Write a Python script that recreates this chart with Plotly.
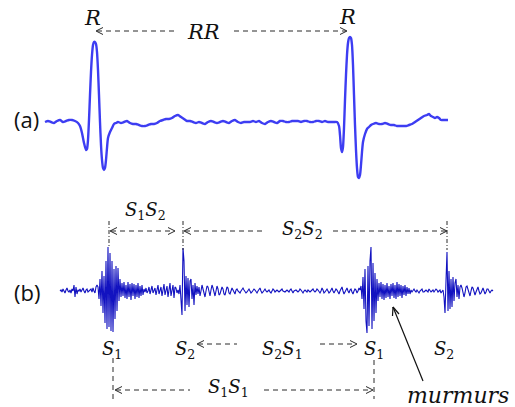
import plotly.graph_objects as go

W, H = 515, 407

# ---------------- data ----------------
# (a) ECG trace: time (px-scaled units) and amplitude (arbitrary units)
ecg_t = [45, 48, 51, 54, 57, 60, 63, 66, 69, 72, 75, 78, 80, 82, 84, 86, 87, 88, 89, 90,
         91, 92, 93, 94, 95, 96, 97, 98, 99, 100, 101, 102, 103, 104, 105, 106, 107, 108, 110, 112,
         114, 116, 118, 121, 124, 127, 130, 133, 136, 139, 142, 145, 148, 151, 154, 157, 160, 163, 166, 169,
         172, 175, 178, 181, 184, 187, 190, 193, 196, 199, 202, 205, 208, 211, 214, 217, 220, 223, 226, 229,
         232, 235, 238, 241, 244, 247, 250, 253, 256, 259, 262, 265, 268, 271, 274, 277, 280, 283, 286, 289,
         292, 295, 298, 301, 304, 307, 310, 313, 316, 319, 322, 325, 328, 331, 334, 337, 339, 340, 341, 342,
         343, 344, 345, 346, 347, 348, 349, 350, 351, 352, 353, 354, 355, 356, 357, 358, 359, 360, 361, 362,
         363, 365, 367, 369, 371, 373, 376, 379, 382, 385, 388, 391, 394, 397, 400, 403, 406, 409, 412, 415,
         418, 421, 424, 427, 429, 431, 433, 435, 437, 439, 441, 443, 445, 448]
ecg_amp = [0, 1, 0, -1, 1, 2, 0, 1, 2, 2, 1, -1, -4, -11, -21, -28, -27, -18, 2, 27,
           50, 67, 77, 80, 80, 78, 70, 52, 27, 0, -23, -38, -46, -48, -46, -38, -26, -16, -10, -6,
           -2, -1, 0, -1, 0, 1, -1, -2, -2, -3, -4, -4, -3, -2, -2, -1, 1, 2, 3, 3,
           4, 6, 7, 5, 3, 1, 1, 0, -1, 0, -1, -2, 0, 1, 0, -1, 0, 1, 0, -1,
           1, 2, 0, -1, 0, 0, 0, 1, 0, 1, -1, -2, 0, 1, 0, -1, 1, 1, 0, 0,
           1, 1, 1, 0, 1, 1, 0, 0, 1, 1, 0, 1, 0, 0, 0, 0, -4, -13, -26, -30,
           -25, -6, 22, 47, 67, 79, 84, 85, 84, 77, 57, 27, -3, -28, -46, -55, -56, -53, -43, -30,
           -20, -12, -7, -5, -3, -2, -1, -2, -2, -1, -2, -3, -3, -4, -4, -4, -4, -3, -2, 0,
           2, 4, 6, 7, 8, 6, 5, 4, 5, 4, 2, 2, 2, 2]

# (b) PCG trace: one sample per time unit starting at pcg_t0
pcg_t0 = 60
pcg_amp = [
    0, 1, -1, 2, 0, -2, 1, 3, 0, -1,
    1, -2, 2, 0, 6, -6, 4, -3, 1, 0,
    2, -1, 1, 3, 0, -2, 1, 2, -1, 0,
    1, 2, -1, 3, 0, -2, 4, 6,
    # S1
    4, -8, 12, -15, 20, -22, 15, -32, 30, -38, 44, -36, 38, -40, 30, -41, 22, -28, 25, -20, 23, -10, 12, -6,
    8, -5, 9, -7, 6, -8, 9, -6, 7, -9, 8, -5, 7, -8, 6, -6, 8, -7, 5, -5, 6, -4,
    2, -1, 3, -2, 0, 4, -3, 1, 5, -2, 0, 3, -4, 2, 6, -3, 1, 4, -5, 2,
    7, -4, 0, 5, -6, 3, 8, -5, 2, 6, -7, 4, 3, -2, 1,
    # S2
    -3, 6, -12, -24, 43, 30, -20, 15, -14, 13, -16, 10, 12, -8, 6, -14, 8, -4, 5, -3, 4,
    -5, 0, 6, 2, -4, -6, 0, 5, 4, -3, -5, 1, 6, 3, -3, -5, 0, 5, 2, -4,
    -3, 1, 4, 2, -3, -4, 0, 4, 3, -2, -3, 1, 3, 1, -2, -3,
    1, 2, 0, -1, -2, 0, 1, 3, 1, -1, -2, -1, 1, 2, 0, -2, -1, 0, 2, 1,
    -1, -2, 0, 1, 3, 0, -2, -1, 1, 2, 0, -1, 0, 1, -1, -2, 0, 2, 1, -1,
    0, 1, 0, -1, 0, 1, 2, 0, -1, -1, 0, 1, 0, -1, 1, 2, 0, -2, 0, 1,
    1, 0, -1, 0, 2, 1, -1, -2, 0, 1, 0, -1, 1, 0, -1, 0, 1, 2, 0, -1,
    0, 2, 1, -1, -2, 0, 3, 1, -2, -1, 0, 2, 0, -2, -1, 1, 3, 0, -2, 0,
    2, 1, -1, -3, 0, 2, 4, 0, -3, -1, 1, 3, 0, -2, 1, 2, -1, -3, 0, 2, 1, -2, 0, 3, 1,
    # S1
    5, -8, 14, -18, 22, -30, -42, 25, -35, 30, 44, -38, 28, -30, 18, -22, 12, -10,
    # murmurs
    8, -6, 9, -8, 7, -9, 6, -7, 8, -6, 5, -8, 7, -5, 8, -7, 6, -8, 9, -6, 7, -5, 6, -7, 5, -4, 6, -5, 4, -3, 3, -3,
    1, -1, 0, 2, 0, -1, 1, 0, -2, 0, 1, 2, -1, -1, 0, 1, 0, -1, 2, 1, -1, 0, 1,
    -1, 0, 2, 1, -1, 0, 1, -2, 0, 1,
    # S2
    -6, -22, 10, 39, -20, 20, -18, 12, -16, 14, -10, 8, 12, -6, 6, -8, 4,
    6, 3, -3, -6, -2, 4, 5, 1, -4, -5, 0, 4, 3, -2, -4, -1, 3, 4, 0, -3,
    -2, 2, 3, 0, -3, -1, 2, 2, -1, -2, 0, 1, 0,
]
pcg_t = [pcg_t0 + i for i in range(len(pcg_amp))]

# ---------------- figure ----------------
fig = go.Figure()
fig.add_trace(go.Scatter(x=ecg_t, y=ecg_amp, mode="lines", yaxis="y",
                         line=dict(color="#3d3df2", width=2.4, shape="spline", smoothing=0.6),
                         hoverinfo="skip"))
fig.add_trace(go.Scatter(x=pcg_t, y=pcg_amp, mode="lines", yaxis="y2",
                         line=dict(color="#1212c0", width=1.1),
                         hoverinfo="skip"))


def P(y):
    return 1 - y / H


shapes = []
annotations = []
INK = "#2a2a2a"


def seg(x0, y0, x1, y1, dash=None, width=1, color=INK):
    shapes.append(dict(type="line", xref="x", yref="paper", x0=x0, y0=P(y0), x1=x1, y1=P(y1),
                       line=dict(color=color, width=width, dash=dash)))


def head(x, y, d):
    seg(x - d * 7, y - 3.5, x, y)
    seg(x - d * 7, y + 3.5, x, y)


DASH = "5px,4px"
DASHDOT = "4px,2px,1px,2px"


def txt(x, y, s, size=18, family="DejaVu Serif", color="#111"):
    annotations.append(dict(x=x, y=P(y), xref="x", yref="paper", text=s, showarrow=False,
                            xanchor="center", yanchor="middle",
                            font=dict(family=family, size=size, color=color)))


S1 = "<i>S</i><sub>1</sub>"
S2 = "<i>S</i><sub>2</sub>"

# (a) annotations
txt(92, 18, "<i>R</i>", size=21)
txt(347, 17, "<i>R</i>", size=21)
txt(203, 32, "<i>RR</i>", size=21)
seg(97, 31, 174, 31, DASH)
seg(234, 31, 346, 31, DASH)
head(96, 31, -1)
head(347, 31, 1)
txt(26, 119, "(a)", size=22, family="Open Sans")
txt(27, 292, "(b)", size=22, family="Open Sans")

# (b) top annotations
txt(145, 211, S1 + S2)
seg(109, 221, 109, 246, DASHDOT)
seg(183, 221, 183, 250, DASHDOT)
seg(447, 221, 447, 250, DASHDOT)
seg(111, 231, 174, 231, DASH)
head(110, 231, -1)
head(175, 231, 1)
seg(185, 231, 262, 231, DASH)
head(184, 231, -1)
txt(302, 230, S2 + S2)
seg(333, 231, 446, 231, DASH)
head(447, 231, 1)

# (b) bottom annotations
txt(112, 350, S1)
txt(185, 350, S2)
seg(198, 344, 237, 344, DASH)
head(197, 344, -1)
txt(282, 350, S2 + S1)
seg(320, 344, 356, 344, DASH)
head(357, 344, 1)
txt(374, 350, S1)
txt(444, 350, S2)
seg(113, 358, 113, 399, DASH)
seg(374, 360, 374, 399, DASH)
seg(116, 390, 190, 390, DASH)
head(115, 390, -1)
txt(228, 388, S1 + S1)
seg(264, 390, 372, 390, DASH)
head(373, 390, 1)
txt(458, 395, "<i>murmurs</i>", size=22)

# murmurs solid arrow
seg(423, 381, 393, 307, None, 1.2, "#111")
seg(393, 307, 392.5, 316, None, 1.2, "#111")
seg(393, 307, 399, 314, None, 1.2, "#111")

fig.update_layout(
    width=W, height=H,
    margin=dict(l=0, r=0, t=0, b=0),
    paper_bgcolor="white", plot_bgcolor="white",
    showlegend=False,
    xaxis=dict(range=[0, W], visible=False, fixedrange=True),
    yaxis=dict(range=[122 - H, 122], visible=False, fixedrange=True),
    yaxis2=dict(range=[291 - H, 291], visible=False, overlaying="y", fixedrange=True),
    shapes=shapes,
    annotations=annotations,
)

fig.write_html("out.html", config={"displayModeBar": False},
               post_script="document.body.style.margin='0';document.body.style.overflow='hidden';")
